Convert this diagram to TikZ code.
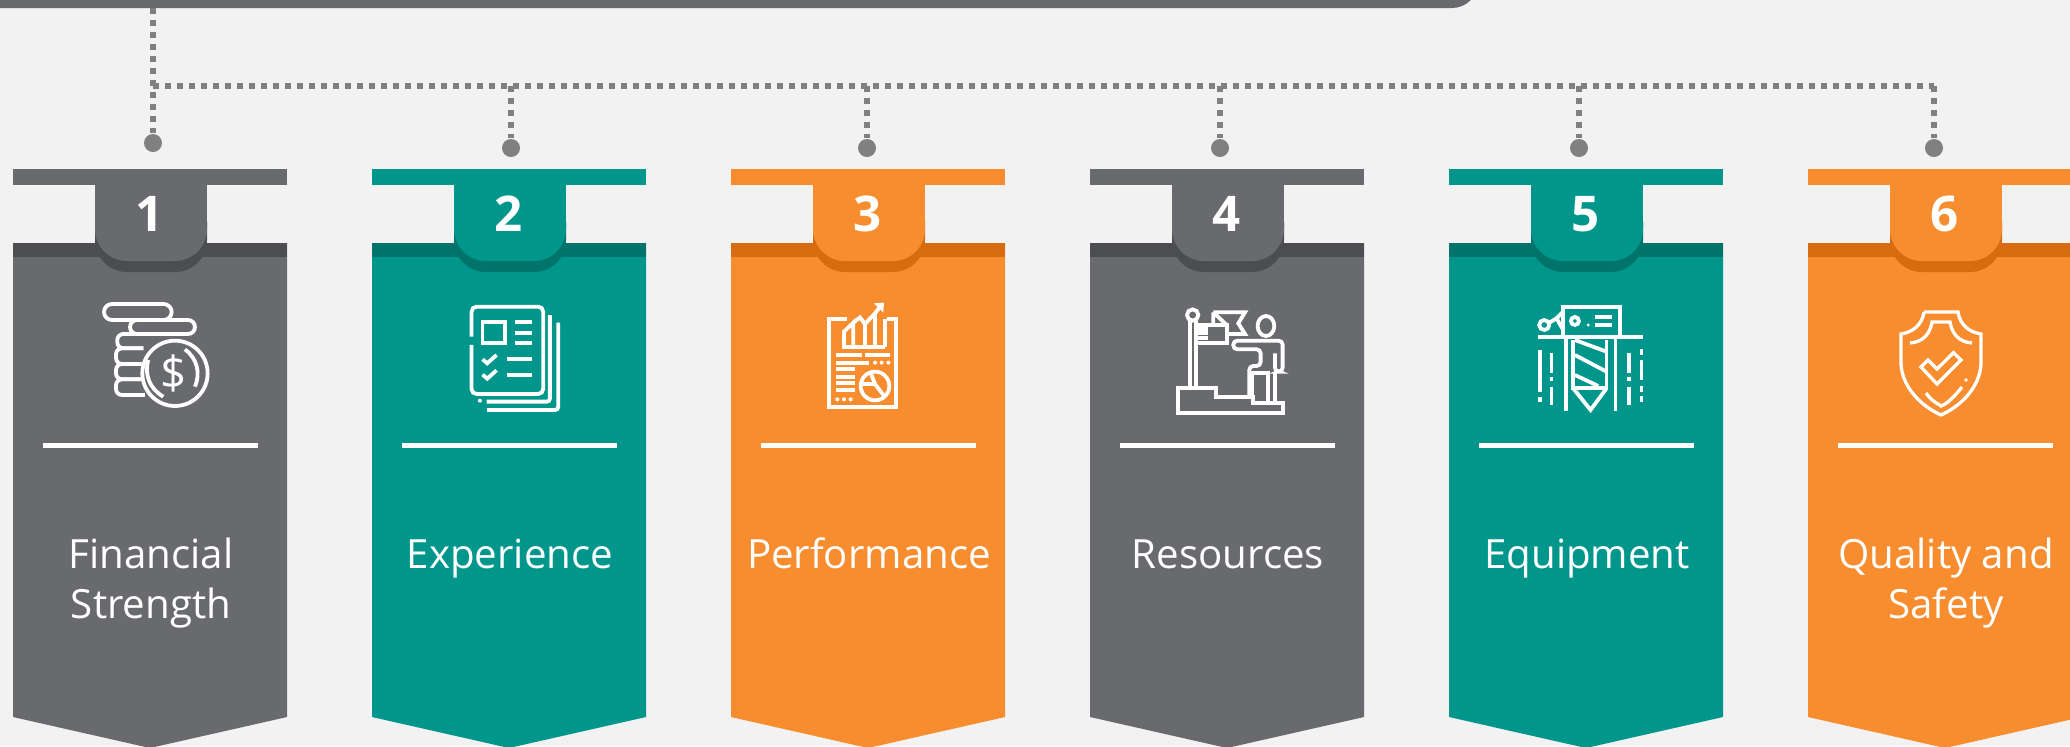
\documentclass[tikz,border=0pt]{standalone}
\usepackage{fontspec}
\setmainfont{Open Sans}
\definecolor{pagebg}{HTML}{F2F2F2}
\definecolor{slate}{HTML}{696A6E}
\definecolor{slatedark}{HTML}{4C4D51}
\definecolor{teal}{HTML}{00968C}
\definecolor{tealdark}{HTML}{00736B}
\definecolor{amber}{HTML}{F78D2F}
\definecolor{amberdark}{HTML}{D86B10}
\definecolor{dotgrey}{HTML}{808080}
\tikzset{
	dotline/.style={dotgrey, line width=0.65mm, dash pattern=on 0.62mm off 0.58mm},
	enddot/.style={circle, fill=dotgrey, inner sep=0pt, minimum size=1.8mm},
	sepline/.style={white, line width=0.5mm},
	icon/.style={white, line width=0.38mm, x=0.03333mm, y=-0.03333mm},
	numlabel/.style={white, font=\fontsize{14}{16}\selectfont\bfseries},
	cardlabel/.style={white, anchor=north, align=center, inner sep=0pt,
		font=\fontsize{11.45}{14.4}\selectfont},
}
\begin{document}
\begin{tikzpicture}[x=0.1mm, y=-0.1mm]
	\useasboundingbox (0,0) rectangle (2070,746);
	\clip (0,0) rectangle (2070,746);
	\fill[pagebg] (0,0) rectangle (2070,746);
	% top bar
	\fill[slate, rounded corners=2.6mm] (-60,-60) rectangle (1478,8);
	\coordinate (barfoot) at (153,8);
	\coordinate (hub) at (153,86);
	% cards
	\foreach \x/\n/\c/\d/\t in {13/1/slate/slatedark/{\strut Financial\\Strength},
		372/2/teal/tealdark/{\strut Experience},
		731/3/amber/amberdark/{\strut Performance},
		1090/4/slate/slatedark/{\strut Resources},
		1449/5/teal/tealdark/{\strut Equipment},
		1808/6/amber/amberdark/{\strut Quality and\\Safety}} {
		\fill[\c] (\x,169) rectangle ++(274,16);
		\fill[\c] (\x,243) -- ++(274,0) -- ++(0,474) -- ++(-137,31) -- ++(-137,-31) -- cycle;
		\fill[\d] (\x,243) rectangle ++(274,14);
		\fill[\d, rounded corners=3.2mm] ({\x+82},190) rectangle ++(112,82);
		\fill[\c, rounded corners=3.2mm] ({\x+82},190) rectangle ++(112,71);
		\fill[\c] ({\x+82},169) rectangle ++(112,50);
		\node[numlabel] (num\n) at ({\x+137},214) {\n};
		\draw[sepline] ({\x+30},445) -- ++(215,0);
		\node[cardlabel] (label\n) at ({\x+138},532) {\t};
	}
	% connectors
	\node[enddot] (dot1) at (153,143) {};
	\foreach \x/\n in {511/2,867/3,1220/4,1579/5,1934/6} {
		\node[enddot] (dot\n) at (\x,148) {};
		\coordinate (tap\n) at (\x,86);
		\draw[dotline] (tap\n) -- (dot\n);
	}
	\draw[dotline] (barfoot) -- (dot1);
	\draw[dotline] (hub) -- (tap6);
	% coins
	\begin{scope}[shift={(80,280)}, icon]
		\draw[rounded corners=0.8mm] (72,72) rectangle (275,120);
		\draw[rounded corners=0.7mm] (150,120) rectangle (345,162);
		\draw[rounded corners=0.6mm] (190,162) -- (112,162) -- (112,205) -- (190,205);
		\draw[rounded corners=0.6mm] (190,205) -- (108,205) -- (108,252) -- (185,252);
		\draw[rounded corners=0.6mm] (185,252) -- (108,252) -- (108,298) -- (185,298);
		\draw[rounded corners=0.6mm] (185,298) -- (108,298) -- (108,345) -- (195,345);
		\fill[slate] (285,280) circle (100);
		\draw (285,280) circle (98);
		\draw (315,208) to[bend left=38] (345,320);
		\draw (205,240) to[bend right=38] (250,350);
		\node[white, font=\fontsize{13}{15}\selectfont] (coinsign) at (280,280) {\$};
	\end{scope}
	% checklist
	\begin{scope}[shift={(80,280)}, icon]
		\draw[rounded corners=0.5mm] (1175,170) -- (1175,80) -- (1390,80) -- (1390,342) -- (1175,342) -- (1175,195);
		\draw (1208,125) rectangle (1275,190);
		\foreach \y in {127,158,188} {\draw (1305,\y) -- (1355,\y);}
		\foreach \y in {238,284} {
			\draw (1208,\y) -- ++(14,12) -- ++(28,-25);
			\draw (1280,\y) -- (1355,\y);
		}
		\draw[rounded corners=0.3mm] (1410,105) -- (1410,365) -- (1220,365);
		\draw[rounded corners=0.3mm] (1435,128) -- (1435,390) -- (1222,390);
		\fill[white] (1200,362) circle (6);
	\end{scope}
	% report
	\begin{scope}[shift={(800,280)}, icon]
		\draw (140,118) -- (88,118) -- (88,380) -- (288,380) -- (288,118) -- (260,118);
		\draw (125,200) -- (255,200);
		\draw (132,200) -- (132,155) -- (160,128) -- (160,200);
		\draw (160,128) -- (180,112) -- (195,132) -- (195,200);
		\draw (195,132) -- (225,100) -- (225,200);
		\draw (255,200) -- (255,118);
		\draw (225,100) -- (245,75);
		\fill[white] (222,70) -- (252,68) -- (250,98) -- cycle;
		\draw (108,225) -- (185,225) (195,225) -- (270,225);
		\draw (108,248) -- (208,248);
		\foreach \x in {225,245,265} {\fill[white] (\x,248) circle (6);}
		\foreach \y in {268,290,310,330} {\draw (108,\y) -- (165,\y);}
		\draw (225,318) circle (43);
		\draw (185,312) -- (225,312) -- (212,278) (225,312) -- (250,345);
		\foreach \x in {112,132,152} {\fill[white] (\x,358) circle (6);}
	\end{scope}
	% flag and person
	\begin{scope}[shift={(1150,280)}, icon]
		\draw (128,105) circle (17);
		\draw (120,122) -- (120,325) (138,122) -- (138,325);
		\draw (138,135) -- (230,135) -- (230,190) -- (138,190);
		\draw (190,97) -- (285,97) -- (265,130) -- (285,162) -- (230,162);
		\draw (190,97) -- (190,135) (190,97) -- (230,135);
		\foreach \y in {146,160,175} {\draw (138,\y) -- (175,\y);}
		\draw (348,138) ellipse (25 and 30);
		\draw[rounded corners=0.4mm] (375,220) -- (375,275) -- (398,275) -- (398,182) -- (250,182) -- (250,208) -- (332,208) -- (332,258) -- (298,258) -- (298,345);
		\draw (305,345) -- (305,278) -- (355,278) -- (355,365);
		\draw (375,275) -- (375,365);
		\draw (85,325) -- (198,325) -- (198,350) -- (308,350) -- (308,368) -- (398,368) -- (398,400) -- (85,400) -- cycle;
	\end{scope}
	% drill
	\begin{scope}[shift={(1150,280)}, icon]
		\draw (1240,172) -- (1240,80) -- (1410,80) -- (1410,172);
		\draw (1165,172) -- (1480,172);
		\draw (1275,123) circle (12);
		\draw (1335,110) -- (1385,110) (1335,135) -- (1385,135);
		\fill[white] (1315,135) circle (5);
		\draw (1183,135) circle (15);
		\draw (1198,128) -- (1220,115);
		\draw (1240,95) -- (1220,115) -- (1240,150);
		\draw (1248,172) -- (1248,392) (1397,172) -- (1397,392);
		\draw (1270,180) -- (1270,325) -- (1370,325) -- (1370,180);
		\draw (1270,325) -- (1322,390) -- (1370,325);
		\draw (1275,180) -- (1370,215) (1275,225) -- (1370,275) (1275,285) -- (1345,318);
		\draw (1170,210) -- (1170,335) (1170,352) -- (1170,366);
		\draw (1205,220) -- (1205,280) (1205,290) -- (1205,302) (1205,320) -- (1205,375);
		\draw (1438,220) -- (1438,280) (1438,290) -- (1438,302) (1438,320) -- (1438,375);
		\draw (1475,208) -- (1475,226) (1475,240) -- (1475,300) (1475,318) -- (1475,335) (1475,347) -- (1475,365);
	\end{scope}
	% shield
	\begin{scope}[shift={(1941,0)}]
		\draw[white, line width=0.33mm] (-17,312) -- (17,312) .. controls (19,325) and (28,332) .. (40,334) -- (40,362) .. controls (40,385) and (22,405) .. (0,415) .. controls (-22,405) and (-40,385) .. (-40,362) -- (-40,334) .. controls (-28,332) and (-19,325) .. (-17,312);
		\draw[white, line width=0.33mm] (-31,343) .. controls (-18,342) and (-11,334) .. (-9,322) -- (9,322) .. controls (11,334) and (18,342) .. (31,343);
		\draw[white, line width=0.33mm] (-15,393) .. controls (-8,403) and (0,405) .. (0,406) .. controls (6,404) and (14,396) .. (21,387);
		\fill[white] (25,380) circle (1.8);
		\draw[white, line width=0.33mm] (-20,367) -- (-4,384) -- (20,360) -- (12.5,352.7) -- (-4,369) -- (-13,360) -- cycle;
	\end{scope}
\end{tikzpicture}
\end{document}
